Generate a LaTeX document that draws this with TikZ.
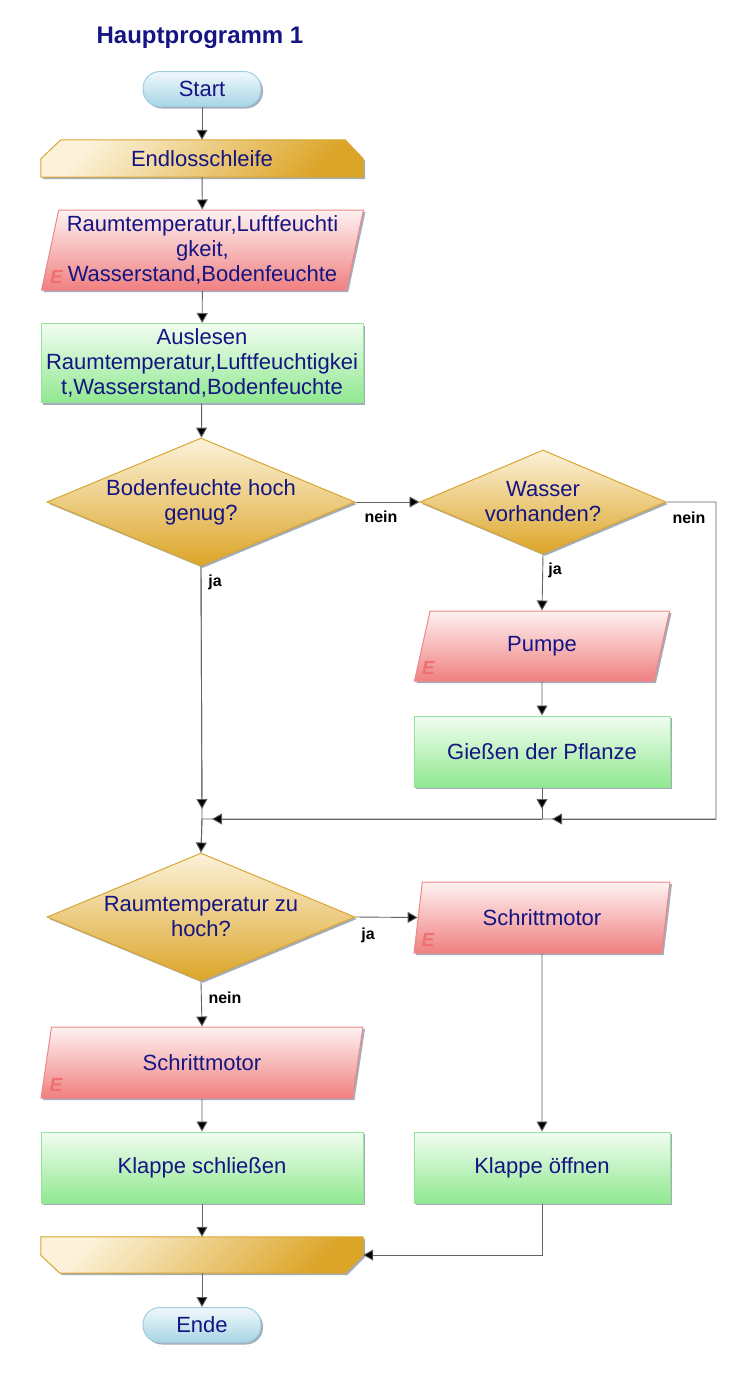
\documentclass[tikz,border=0pt]{standalone}
\usepackage{fontspec}
\setmainfont{Liberation Sans}
\usetikzlibrary{shapes.geometric,arrows.meta,shadows,backgrounds}
\definecolor{text blue}{RGB}{20,20,130}
\definecolor{pill edge}{RGB}{160,205,225}
\definecolor{pill light}{RGB}{240,249,252}
\definecolor{pill dark}{RGB}{168,212,228}
\definecolor{gold edge}{RGB}{216,166,50}
\definecolor{gold light}{RGB}{252,242,218}
\definecolor{gold dark}{RGB}{220,165,40}
\definecolor{pink edge}{RGB}{240,135,135}
\definecolor{pink light}{RGB}{254,242,242}
\definecolor{pink dark}{RGB}{240,128,128}
\definecolor{pink mark}{RGB}{238,112,112}
\definecolor{green edge}{RGB}{150,228,150}
\definecolor{green light}{RGB}{242,253,242}
\definecolor{green dark}{RGB}{144,232,144}
\definecolor{shadow grey}{RGB}{140,152,168}
\definecolor{line grey}{RGB}{100,100,100}
\tikzset{
	base/.style={font=\fontsize{22}{25}\selectfont, text=text blue, align=center,
		inner sep=1pt, line width=1pt, shading angle=45,
		drop shadow={shadow xshift=2pt, shadow yshift=-2pt, fill=shadow grey, opacity=0.8}},
	terminal/.style={base, rectangle, rounded corners=17pt, minimum width=118pt,
		minimum height=35pt, draw=pill edge, top color=pill light, bottom color=pill dark},
	loopbox/.style={font=\fontsize{22}{25}\selectfont, text=text blue,
		minimum width=322pt, minimum height=37pt, inner sep=0pt},
	loopfill/.style={draw=gold edge, line width=1pt, top color=gold light,
		bottom color=gold dark, shading angle=45,
		drop shadow={shadow xshift=2pt, shadow yshift=-2pt, fill=shadow grey, opacity=0.8}},
	iobox/.style={base, trapezium, trapezium left angle=77, trapezium right angle=103,
		trapezium stretches=true, draw=pink edge, top color=pink light, bottom color=pink dark},
	procbox/.style={base, rectangle, draw=green edge, top color=green light, bottom color=green dark},
	decision/.style={base, diamond, inner sep=0pt, draw=gold edge, top color=gold light, bottom color=gold dark},
	emark/.style={font=\fontsize{19}{19}\bfseries\itshape\selectfont, text=pink mark,
		inner sep=0pt, anchor=south west},
	answer/.style={font=\fontsize{16}{16}\bfseries\selectfont, text=black, inner sep=0pt},
	arr/.style={draw=line grey, line width=0.9pt, -{Triangle[length=10pt,width=11pt,fill=black]}},
	line/.style={draw=line grey, line width=0.9pt}
}

\begin{document}
\begin{tikzpicture}[x=1pt,y=-1pt]
	\useasboundingbox (0,0) rectangle (750,1377);
	\node[font=\fontsize{24}{28}\bfseries\selectfont, text=text blue] (title) at (200,38) {Hauptprogramm 1};
	\node[terminal] (start) at (202,89) {Start};
	\node[loopbox] (loopA) at (202,158.5) {Endlosschleife};
	\node[iobox, minimum width=322pt, minimum height=80pt] (sensors) at (202.5,250)
		{Raumtemperatur,Luftfeuchti\\gkeit,\\Wasserstand,Bodenfeuchte};
	\node[emark] (e1) at ([xshift=9pt,yshift=7pt]sensors.bottom left corner) {E};
	\node[procbox, minimum width=322pt, minimum height=79pt] (read) at (202,363)
		{Auslesen\\Raumtemperatur,Luftfeuchtigkei\\t,Wasserstand,Bodenfeuchte};
	\node[decision, aspect=2.4, minimum width=308pt, minimum height=128pt] (soil) at (201,502)
		{Bodenfeuchte hoch\\genug?};
	\node[decision, aspect=2.37, minimum width=246pt, minimum height=104pt] (water) at (543,502)
		{Wasser\\vorhanden?};
	\node[iobox, minimum width=256pt, minimum height=70pt] (pump) at (542,646) {Pumpe};
	\node[emark] (e2) at ([xshift=8pt,yshift=7pt]pump.bottom left corner) {E};
	\node[procbox, minimum width=256pt, minimum height=71pt] (pour) at (542,751.5) {Gießen der Pflanze};
	\coordinate (j1) at (202,819);
	\coordinate (j2) at (542,819);
	\coordinate (r2) at (716,819);
	\node[decision, aspect=2.4, minimum width=308pt, minimum height=128pt] (temp) at (201,917)
		{Raumtemperatur zu\\hoch?};
	\node[iobox, minimum width=256pt, minimum height=71pt] (motorB) at (542,917.5) {Schrittmotor};
	\node[emark] (e3) at ([xshift=8pt,yshift=7pt]motorB.bottom left corner) {E};
	\node[iobox, minimum width=322pt, minimum height=71pt] (motorA) at (202,1062.5) {Schrittmotor};
	\node[emark] (e4) at ([xshift=9pt,yshift=7pt]motorA.bottom left corner) {E};
	\node[procbox, minimum width=322pt, minimum height=71pt] (shut) at (202,1167.5) {Klappe schließen};
	\node[procbox, minimum width=256pt, minimum height=71pt] (open) at (542,1167.5) {Klappe öffnen};
	\node[loopbox, minimum height=36pt] (loopB) at (202,1255) {};
	\node[terminal] (ende) at (202,1325) {Ende};

	% loop start and loop end
	\begin{scope}[on background layer]
		\path[loopfill] ([xshift=20pt]loopA.north west) -- ([xshift=-18pt]loopA.north east)
			-- ([yshift=-19pt]loopA.north east) -- (loopA.south east) -- (loopA.south west)
			-- ([yshift=-19pt]loopA.north west) -- cycle;
		\path[loopfill] (loopB.north west) -- (loopB.north east) -- ([yshift=18pt]loopB.south east)
			-- ([xshift=-18pt]loopB.south east) -- ([xshift=19pt]loopB.south west)
			-- ([yshift=18pt]loopB.south west) -- cycle;
	\end{scope}

	\draw[arr] (start) -- (loopA);
	\draw[arr] (loopA) -- (sensors);
	\draw[arr] (sensors) -- (read);
	\draw[arr] (read) -- (soil);
	\draw[arr] (soil.east) -- (water.west);
	\node[answer] (no1) at (381,517) {nein};
	\draw[arr] (water.south) -- (pump.north);
	\node[answer] (yes2) at (555,570) {ja};
	\draw[arr] (pump.south) -- (pour.north);
	% merge after watering
	\draw[line] (water.east) -| (r2) -- (j2) -- (j1) -- (temp.north);
	\draw[line] (pour.south) -- (j2);
	\draw[line] (soil.south) -- (j1);
	\draw[arr] (r2) -- ([xshift=10pt]j2);
	\draw[arr] (j2) -- ([xshift=10pt]j1);
	\draw[arr] (pour.south) -- ([yshift=10pt]j2);
	\draw[arr] (soil.south) -- ([yshift=10pt]j1);
	\node[answer] (no2) at (689,518) {nein};
	\node[answer] (yes1) at (215,582) {ja};
	\draw[arr] (j1) -- (temp.north);
	\draw[arr] (temp.east) -- (motorB.west);
	\node[answer] (yes3) at (368,935) {ja};
	\draw[arr] (motorB.south) -- (open.north);
	\draw[arr] (temp.south) -- (motorA.north);
	\node[answer] (no3) at (225,998) {nein};
	\draw[arr] (motorA.south) -- (shut.north);
	\draw[arr] (shut.south) -- (loopB.north);
	\draw[arr] (open.south) |- (loopB.east);
	\draw[arr] (loopB) -- (ende);
\end{tikzpicture}
\end{document}
